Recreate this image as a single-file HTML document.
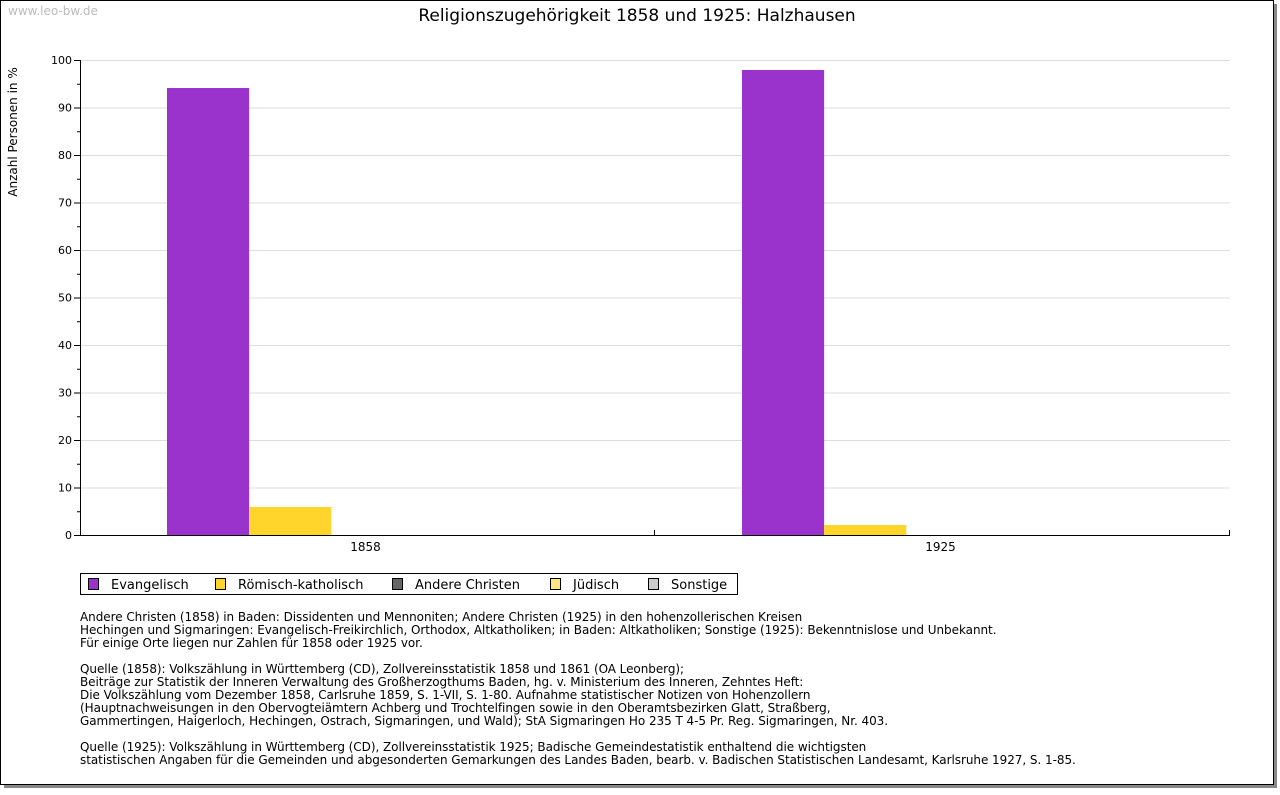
<!DOCTYPE html>
<html><head><meta charset="utf-8"><style>
body{margin:0;background:#fff;font-family:"DejaVu Sans","Liberation Sans",sans-serif;}
svg text{font-family:"DejaVu Sans","Liberation Sans",sans-serif;}
</style></head><body>
<svg id="c" width="1280" height="791" xmlns="http://www.w3.org/2000/svg">
<rect x="4" y="4" width="1273" height="784" fill="#888"/>
<rect x="0.5" y="0.5" width="1273" height="784" fill="#fff" stroke="#000"/>
<text x="8" y="15" font-size="12" fill="#bbb">www.leo-bw.de</text>
<text x="637" y="21" font-size="17" text-anchor="middle" fill="#000">Religionszugehörigkeit 1858 und 1925: Halzhausen</text>
<text transform="translate(17,132) rotate(-90)" font-size="12" text-anchor="middle">Anzahl Personen in %</text>
<g id="grid"></g><g id="bars"></g><g id="axes"></g>
<g>
<rect x="80.5" y="573.5" width="657" height="21" fill="#fff" stroke="#000"/>
<g id="leg"></g>
</g>
<g font-size="12" fill="#000" letter-spacing="-0.05">
<text x="80" y="621">Andere Christen (1858) in Baden: Dissidenten und Mennoniten; Andere Christen (1925) in den hohenzollerischen Kreisen</text>
<text x="80" y="634">Hechingen und Sigmaringen: Evangelisch-Freikirchlich, Orthodox, Altkatholiken; in Baden: Altkatholiken; Sonstige (1925): Bekenntnislose und Unbekannt.</text>
<text x="80" y="647">Für einige Orte liegen nur Zahlen für 1858 oder 1925 vor.</text>
<text x="80" y="673">Quelle (1858): Volkszählung in Württemberg (CD), Zollvereinsstatistik 1858 und 1861 (OA Leonberg);</text>
<text x="80" y="686">Beiträge zur Statistik der Inneren Verwaltung des Großherzogthums Baden, hg. v. Ministerium des Inneren, Zehntes Heft:</text>
<text x="80" y="699">Die Volkszählung vom Dezember 1858, Carlsruhe 1859, S. 1-VII, S. 1-80. Aufnahme statistischer Notizen von Hohenzollern</text>
<text x="80" y="712">(Hauptnachweisungen in den Obervogteiämtern Achberg und Trochtelfingen sowie in den Oberamtsbezirken Glatt, Straßberg,</text>
<text x="80" y="725">Gammertingen, Haigerloch, Hechingen, Ostrach, Sigmaringen, und Wald); StA Sigmaringen Ho 235 T 4-5 Pr. Reg. Sigmaringen, Nr. 403.</text>
<text x="80" y="751">Quelle (1925): Volkszählung in Württemberg (CD), Zollvereinsstatistik 1925; Badische Gemeindestatistik enthaltend die wichtigsten</text>
<text x="80" y="764">statistischen Angaben für die Gemeinden und abgesonderten Gemarkungen des Landes Baden, bearb. v. Badischen Statistischen Landesamt, Karlsruhe 1927, S. 1-85.</text>
</g>
</svg>
<script>
const categories=["1858","1925"];
const seriesNames=["Evangelisch","Römisch-katholisch","Andere Christen","Jüdisch","Sonstige"];
const seriesColors=["#9933cc","#ffd52b","#666666","#ffe680","#cccccc"];
const evangelisch=[94.1,97.9];
const katholisch=[5.9,2.1];
const andereChristen=[0,0];
const juedisch=[0,0];
const sonstige=[0,0];
const yTicks=[0,10,20,30,40,50,60,70,80,90,100];
const series=[evangelisch,katholisch,andereChristen,juedisch,sonstige];
const NS="http://www.w3.org/2000/svg";
const X0=80,X1=1230,Y0=535,Y1=60;
const y=v=>Y0-(v/100)*(Y0-Y1);
const cw=(X1-X0)/categories.length;
const bw=cw/7;
function mk(t,a,p){const e=document.createElementNS(NS,t);for(const k in a)e.setAttribute(k,a[k]);p.appendChild(e);return e;}
const grid=document.getElementById('grid'),axes=document.getElementById('axes'),bars=document.getElementById('bars'),leg=document.getElementById('leg');
const yMax=yTicks[yTicks.length-1];
yTicks.forEach(t=>{
 if(t>0){const l=mk('line',{x1:X0,x2:X1,y1:y(t)+.5,y2:y(t)+.5,stroke:'#ddd'},grid);
 
 }
 mk('line',{x1:X0-6,x2:X0,y1:y(t)+.5,y2:y(t)+.5,stroke:'#000'},axes);
 if(t<yMax)mk('line',{x1:X0-3,x2:X0,y1:y(t+5)+.5,y2:y(t+5)+.5,stroke:'#000'},axes);
 const tx=mk('text',{x:X0-8,y:y(t)+4,'font-size':11,'text-anchor':'end'},axes);tx.textContent=t;
 
 
});
mk('line',{x1:X0+.5,x2:X0+.5,y1:Y1,y2:Y0,stroke:'#000'},axes);
mk('line',{x1:X0,x2:X1,y1:Y0+.5,y2:Y0+.5,stroke:'#000'},axes);
categories.forEach((c,i)=>{
 const xe=X0+cw*(i+1);mk('line',{x1:xe-.5,x2:xe-.5,y1:Y0-5,y2:Y0,stroke:'#000'},axes);
 const tx=mk('text',{x:X0+cw*(i+0.5)-2,y:Y0+16,'font-size':12,'text-anchor':'middle'},axes);tx.textContent=c;
 
 
 series.forEach((s,j)=>{
  if(s[i]<=0)return;
  const r=mk('rect',{x:X0+cw*i+87+j*bw,y:y(s[i]),width:bw,height:Y0-y(s[i]),fill:seriesColors[j]},bars);
  
  
 });
});
const lx=[88,215,392,550,648];
seriesNames.forEach((n,j)=>{
 const r=mk('rect',{x:lx[j]+.5,y:578.5,width:10,height:11,fill:seriesColors[j],stroke:'#000'},leg);
 
 
 const t=mk('text',{x:lx[j]+23,y:589,'font-size':13},leg);t.textContent=n;
 
 
});
</script>
</body></html>
